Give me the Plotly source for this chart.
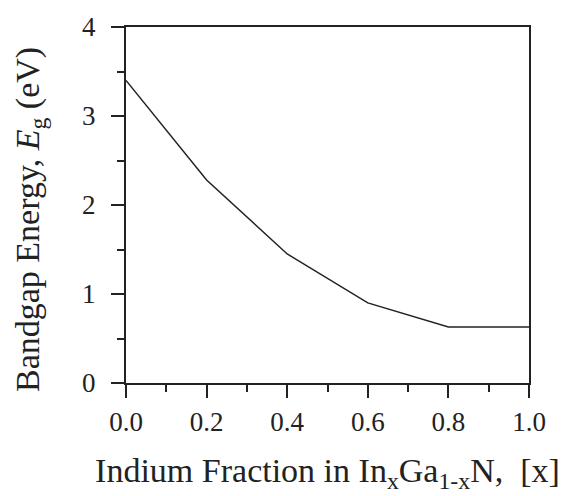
import plotly.graph_objects as go

indium_fraction = [0.0, 0.2, 0.4, 0.6, 0.8, 1.0]
bandgap_ev = [3.40, 2.28, 1.45, 0.90, 0.63, 0.63]

x_tick_vals = [0.0, 0.2, 0.4, 0.6, 0.8, 1.0]
x_tick_text = ["0.0", "0.2", "0.4", "0.6", "0.8", "1.0"]
y_tick_vals = [0, 1, 2, 3, 4]
y_tick_text = ["0", "1", "2", "3", "4"]

FONT = "Liberation Serif, Times New Roman, serif"
INK = "#222222"

fig = go.Figure()
fig.add_trace(go.Scatter(x=indium_fraction, y=bandgap_ev, mode="lines",
                         line=dict(color=INK, width=1.5), showlegend=False))

fig.update_layout(
    width=564, height=496,
    margin=dict(l=126, r=35, t=14, b=113),
    paper_bgcolor="white", plot_bgcolor="white",
    font=dict(family=FONT, color=INK),
)
fig.update_xaxes(
    range=[0, 1.0], tickvals=x_tick_vals, ticktext=x_tick_text,
    showgrid=False, zeroline=False,
    showline=True, linecolor=INK, linewidth=2, mirror=True,
    ticks="outside", ticklen=13, tickwidth=2, tickcolor=INK,
    tickfont=dict(size=27, family=FONT),
    ticklabelstandoff=1, ticklabeloverflow="allow",
    minor=dict(dtick=0.1, ticks="outside", ticklen=7, tickwidth=2, tickcolor=INK),
    title=dict(text="Indium Fraction in In<sub>x</sub>Ga<sub>1-x</sub>N,  [x]",
               font=dict(size=34, family=FONT), standoff=22),
)
fig.update_yaxes(
    range=[0, 4.0], tickvals=y_tick_vals, ticktext=y_tick_text,
    showgrid=False, zeroline=False,
    showline=True, linecolor=INK, linewidth=2, mirror=True,
    ticks="outside", ticklen=13, tickwidth=2, tickcolor=INK,
    tickfont=dict(size=27, family=FONT),
    ticklabelstandoff=10, ticklabeloverflow="allow",
    minor=dict(dtick=0.5, ticks="outside", ticklen=7, tickwidth=2, tickcolor=INK),
)
fig.add_annotation(
    text="Bandgap Energy, <i>E</i><sub>g</sub> (eV)",
    xref="paper", yref="paper", x=-0.238, y=0.458,
    xanchor="center", yanchor="middle", textangle=-90, showarrow=False,
    font=dict(size=34, family=FONT, color=INK),
)

fig.write_html("out.html")
